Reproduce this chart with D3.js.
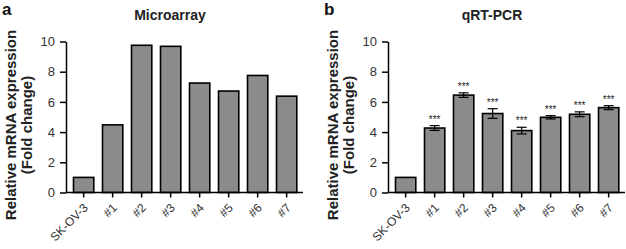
<!DOCTYPE html>
<html lang="en">
<head>
<meta charset="UTF-8">
<title>mRNA expression</title>
<script src="https://cdn.jsdelivr.net/npm/d3@7"></script>
<style>
    body { margin: 0; background: #fff; }
    svg { display: block; font-family: "Liberation Sans", Arial, sans-serif; }
</style>
</head>
<body>
<script>
    var categories = ["SK-OV-3", "#1", "#2", "#3", "#4", "#5", "#6", "#7"];
    var microarray = [1.0, 4.48, 9.75, 9.68, 7.25, 6.72, 7.75, 6.38];
    var qpcr = [1.0, 4.27, 6.45, 5.23, 4.1, 4.98, 5.18, 5.62];
    var qpcrErr = [0, 0.16, 0.15, 0.32, 0.22, 0.11, 0.16, 0.13];
    var qpcrSig = ["", "***", "***", "***", "***", "***", "***", "***"];
    var yTicks = [0, 2, 4, 6, 8, 10];

    var W = 626, H = 249;
    var svg = d3.select("body").append("svg")
        .attr("width", W)
        .attr("height", H);

    var yscale = d3.scaleLinear()
        .domain([0, 10])
        .range([192.5, 41.5]);

    function drawPanel(ox, letter, title, values, errs, sig) {
        var g = svg.append("g");
        var axisX = ox;
        var xscale = d3.scaleBand()
            .domain(categories)
            .range([axisX - 1.2, axisX - 1.2 + 29 * 8.3])
            .paddingInner(0.3)
            .paddingOuter(0.3);

        // bars
        g.selectAll("rect")
            .data(values)
            .enter()
            .append("rect")
            .attr("x", (d, i) => xscale(categories[i]))
            .attr("width", xscale.bandwidth())
            .attr("y", d => yscale(d))
            .attr("height", d => yscale(0) - yscale(d))
            .attr("fill", "#8b8b8b")
            .attr("stroke", "#000")
            .attr("stroke-width", 1.6);

        // error bars + significance stars
        if (errs) {
            values.forEach(function (v, i) {
                if (!errs[i]) return;
                var cx = xscale(categories[i]) + xscale.bandwidth() / 2;
                g.append("line")
                    .attr("x1", cx).attr("x2", cx)
                    .attr("y1", yscale(v - errs[i])).attr("y2", yscale(v + errs[i]))
                    .attr("stroke", "#000").attr("stroke-width", 1.2);
                [v - errs[i], v + errs[i]].forEach(function (e) {
                    g.append("line")
                        .attr("x1", cx - 5).attr("x2", cx + 5)
                        .attr("y1", yscale(e)).attr("y2", yscale(e))
                        .attr("stroke", "#000").attr("stroke-width", 1.2);
                });
                g.append("text")
                    .attr("x", cx)
                    .attr("y", yscale(v + errs[i]) - 3)
                    .attr("text-anchor", "middle")
                    .attr("font-size", 10)
                    .attr("fill", "#222")
                    .text(sig[i]);
            });
        }

        // y axis
        var yaxis = d3.axisLeft(yscale)
            .tickValues(yTicks)
            .tickSize(6)
            .tickSizeOuter(0)
            .tickPadding(5);
        var ya = g.append("g")
            .attr("transform", "translate(" + axisX + ",0)")
            .call(yaxis);
        ya.selectAll("path, line").attr("stroke", "#000").attr("stroke-width", 1.5);
        ya.selectAll("text")
            .attr("font-size", 13)
            .attr("font-family", "Liberation Sans, Arial, sans-serif")
            .attr("fill", "#333");

        // x axis
        var xaxis = d3.axisBottom(xscale)
            .tickSize(5)
            .tickSizeOuter(0);
        var xa = g.append("g")
            .attr("transform", "translate(0," + yscale(0) + ")")
            .call(xaxis);
        xa.select(".domain").remove();
        xa.append("line")
            .attr("x1", axisX).attr("x2", axisX + 237)
            .attr("stroke", "#000").attr("stroke-width", 1.5);
        xa.selectAll(".tick line").attr("stroke", "#000").attr("stroke-width", 1.5);
        xa.selectAll("text")
            .attr("x", 0).attr("y", 0).attr("dy", 0)
            .attr("text-anchor", "end")
            .attr("transform", "translate(5,16) rotate(-45)")
            .attr("font-size", 12)
            .attr("font-family", "Liberation Sans, Arial, sans-serif")
            .attr("fill", "#333");

        // y title
        var yt = g.append("text")
            .attr("transform", "translate(" + (axisX - 50) + ",125) rotate(-90)")
            .attr("text-anchor", "middle")
            .attr("font-size", 15)
            .attr("font-weight", "bold")
            .attr("fill", "#222");
        yt.append("tspan").attr("x", 0).attr("y", 0).text("Relative mRNA expression");
        yt.append("tspan").attr("x", 0).attr("y", 15.5).text("(Fold change)");

        // title and panel letter
        g.append("text")
            .attr("x", axisX + 104)
            .attr("y", 20)
            .attr("text-anchor", "middle")
            .attr("font-size", 14)
            .attr("font-weight", "bold")
            .attr("fill", "#222")
            .text(title);
        g.append("text")
            .attr("x", axisX - 64)
            .attr("y", 15)
            .attr("font-size", 17)
            .attr("font-weight", "bold")
            .attr("fill", "#111")
            .text(letter);
    }

    drawPanel(66, "a", "Microarray", microarray, null, null);
    drawPanel(388, "b", "qRT-PCR", qpcr, qpcrErr, qpcrSig);
</script>
</body>
</html>
